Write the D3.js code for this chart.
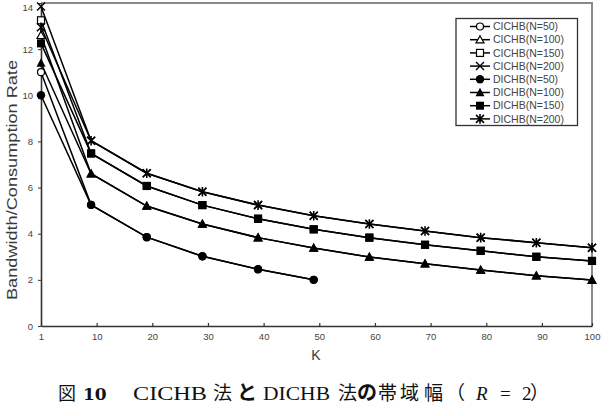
<!DOCTYPE html>
<html><head><meta charset="utf-8">
<script src="https://cdn.jsdelivr.net/npm/d3@7"></script>
<style>
body{margin:0;background:#fff;}
svg{display:block;}
</style></head>
<body>
<svg id="c" width="610" height="416"></svg>
<script>
const kAll = [1,10,20,30,40,50,60,70,80,90,100];
const k50 = [1,10,20,30,40,50];
const xTickValues = [1,11,21,31,41,51,61,71,81,91,100];
const xTickLabels = ["1","10","20","30","40","50","60","70","80","90","100"];
const yTicks = [0,2,4,6,8,10,12,14];

const cichb50  = [11.0,5.25,3.85,3.02,2.46,2.0];
const cichb100 = [12.6,6.6,5.2,4.42,3.83,3.38,2.99,2.70,2.43,2.18,1.99];
const cichb150 = [13.25,7.48,6.07,5.24,4.65,4.19,3.83,3.52,3.26,3.0,2.82];
const cichb200 = [13.85,8.03,6.62,5.82,5.24,4.78,4.42,4.12,3.83,3.61,3.39];
const dichb50  = [10.0,5.25,3.85,3.02,2.46,2.0];
const dichb100 = [11.4,6.6,5.2,4.42,3.83,3.38,2.99,2.70,2.43,2.18,1.99];
const dichb150 = [12.25,7.48,6.07,5.24,4.65,4.19,3.83,3.52,3.26,3.0,2.82];
const dichb200 = [12.95,8.03,6.62,5.82,5.24,4.78,4.42,4.12,3.83,3.61,3.39];

const seriesNames = ["CICHB(N=50)","CICHB(N=100)","CICHB(N=150)","CICHB(N=200)","DICHB(N=50)","DICHB(N=100)","DICHB(N=150)","DICHB(N=200)"];
const series = [
  {name:seriesNames[0], k:k50, v:cichb50, m:"ocircle"},
  {name:seriesNames[1], k:kAll, v:cichb100, m:"otri"},
  {name:seriesNames[2], k:kAll, v:cichb150, m:"osq"},
  {name:seriesNames[3], k:kAll, v:cichb200, m:"x"},
  {name:seriesNames[4], k:k50, v:dichb50, m:"fcircle"},
  {name:seriesNames[5], k:kAll, v:dichb100, m:"ftri"},
  {name:seriesNames[6], k:kAll, v:dichb150, m:"fsq"},
  {name:seriesNames[7], k:kAll, v:dichb200, m:"star"}
];

const svg = d3.select("#c");
const L=41, R=592, T=3, B=326;
const x = d3.scaleLinear().domain([1,100]).range([L,R]);
const y = d3.scaleLinear().domain([0,14]).range([B,T]);
const sans = "Liberation Sans, Arial, sans-serif";

// frame top/right
svg.append("path").attr("d",`M${L},${T}H${R}V${B}`).attr("fill","none").attr("stroke","#8a8a8a").attr("stroke-width",2);

// axes
const xAxis = d3.axisBottom(x).tickValues(xTickValues).tickFormat((d,i)=>xTickLabels[i]).tickSizeInner(-3).tickSizeOuter(0).tickPadding(7);
const gx = svg.append("g").attr("transform",`translate(0,${B})`).call(xAxis);
gx.select(".domain").attr("stroke","#333").attr("stroke-width",1.6);
gx.selectAll(".tick line").attr("stroke","#333").attr("stroke-width",1.2);
gx.selectAll("text").attr("font-family",sans).attr("font-size",9.5).attr("fill","#444");

const yAxis = d3.axisLeft(y).tickValues(yTicks).tickSizeInner(3).tickSizeOuter(0).tickPadding(5);
const gy = svg.append("g").attr("transform",`translate(${L},0)`).call(yAxis);
gy.select(".domain").attr("stroke","#333").attr("stroke-width",1.6);
gy.selectAll(".tick line").attr("stroke","#333").attr("stroke-width",1);
gy.selectAll("text").attr("font-family",sans).attr("font-size",9.5).attr("fill","#444");
gy.selectAll(".tick").filter(d=>d===14).select("text").attr("dy","0.75em");

// axis titles
svg.append("text").attr("transform","translate(17,180) rotate(-90)").attr("text-anchor","middle")
  .attr("font-family",sans).attr("font-size",14.5).attr("fill","#3a3a3a")
  .attr("textLength",240).attr("lengthAdjust","spacingAndGlyphs")
  .text("Bandwidth/Consumption Rate");
svg.append("text").attr("x",316).attr("y",360).attr("text-anchor","middle")
  .attr("font-family",sans).attr("font-size",14).attr("fill","#3a3a3a").text("K");

function marker(g, type, cx, cy){
  const s=4;
  if(type==="ocircle") g.append("circle").attr("cx",cx).attr("cy",cy).attr("r",3.5).attr("fill","#fff").attr("stroke","#000").attr("stroke-width",1.2);
  else if(type==="fcircle") g.append("circle").attr("cx",cx).attr("cy",cy).attr("r",4.2).attr("fill","#000");
  else if(type==="otri") g.append("path").attr("d",`M${cx},${cy-s}L${cx+s},${cy+s*0.8}L${cx-s},${cy+s*0.8}Z`).attr("fill","#fff").attr("stroke","#000").attr("stroke-width",1.2);
  else if(type==="ftri") g.append("path").attr("d",`M${cx},${cy-4.8}L${cx+4.5},${cy+3.8}L${cx-4.5},${cy+3.8}Z`).attr("fill","#000");
  else if(type==="osq") g.append("rect").attr("x",cx-3.5).attr("y",cy-3.5).attr("width",7).attr("height",7).attr("fill","#fff").attr("stroke","#000").attr("stroke-width",1.2);
  else if(type==="fsq") g.append("rect").attr("x",cx-4).attr("y",cy-4).attr("width",8).attr("height",8).attr("fill","#000");
  else if(type==="x") g.append("path").attr("d",`M${cx-s},${cy-s}L${cx+s},${cy+s}M${cx-s},${cy+s}L${cx+s},${cy-s}`).attr("stroke","#000").attr("stroke-width",1.4);
  else if(type==="star") g.append("path").attr("d",`M${cx-s},${cy-s}L${cx+s},${cy+s}M${cx-s},${cy+s}L${cx+s},${cy-s}M${cx},${cy-s-0.8}L${cx},${cy+s+0.8}`).attr("stroke","#000").attr("stroke-width",1.6);
}

const line = d3.line().x(d=>x(d[0])).y(d=>y(d[1]));
const plot = svg.append("g");
series.forEach(s=>{
  const pts = s.k.map((kk,i)=>[kk,s.v[i]]);
  plot.append("path").datum(pts).attr("d",line).attr("fill","none").attr("stroke","#000").attr("stroke-width",1.5);
});
series.forEach(s=>{
  const g = plot.append("g");
  s.k.forEach((kk,i)=>marker(g, s.m, x(kk), y(s.v[i])));
});

// legend
const lg = svg.append("g");
lg.append("rect").attr("x",456).attr("y",18.5).attr("width",121.5).attr("height",107).attr("fill","#fff").attr("stroke","#333").attr("stroke-width",1.3);
series.forEach((s,i)=>{
  const yy = 26.5 + i*13.2;
  lg.append("line").attr("x1",470).attr("x2",490).attr("y1",yy).attr("y2",yy).attr("stroke","#000").attr("stroke-width",1.5);
  marker(lg, s.m, 480, yy);
  lg.append("text").attr("x",493).attr("y",yy+3.6).attr("font-family",sans)
    .attr("font-size",10.5).attr("fill","#444").text(s.name);
});

// caption
const cjk = "'Noto Sans CJK JP', sans-serif";
const cap = svg.append("text").attr("y",400).attr("font-family","Liberation Serif, DejaVu Serif, serif").attr("font-size",19).attr("fill","#111");
cap.append("tspan").attr("x",58).attr("font-family",cjk).attr("font-size",18).text("図");
cap.append("tspan").attr("x",83).attr("font-weight","bold").attr("font-family","DejaVu Serif, serif").attr("font-size",17).text("10");
cap.append("tspan").attr("x",133).attr("textLength",74).attr("lengthAdjust","spacingAndGlyphs").text("CICHB");
cap.append("tspan").attr("x",213).attr("font-family",cjk).attr("font-size",19).text("法");
cap.append("tspan").attr("x",237).attr("font-family",cjk).attr("font-weight","bold").attr("font-size",20).text("と");
cap.append("tspan").attr("x",263).attr("textLength",67).attr("lengthAdjust","spacingAndGlyphs").text("DICHB");
cap.append("tspan").attr("x",338).attr("font-family",cjk).attr("font-size",19).text("法");
cap.append("tspan").attr("x",357).attr("font-family",cjk).attr("font-weight","bold").attr("font-size",20).text("の");
cap.append("tspan").attr("x",378).attr("font-family",cjk).attr("font-size",19).text("帯");
cap.append("tspan").attr("x",400).attr("font-family",cjk).attr("font-size",19).text("域");
cap.append("tspan").attr("x",424).attr("font-family",cjk).attr("font-size",19).text("幅");
cap.append("tspan").attr("x",446).attr("font-family",cjk).attr("font-size",19).text("（");
cap.append("tspan").attr("x",476).attr("font-style","italic").text("R");
cap.append("tspan").attr("x",500).text("=");
cap.append("tspan").attr("x",522).text("2");
cap.append("tspan").attr("x",530).attr("font-family",cjk).attr("font-size",19).text("）");
</script>
</body></html>
